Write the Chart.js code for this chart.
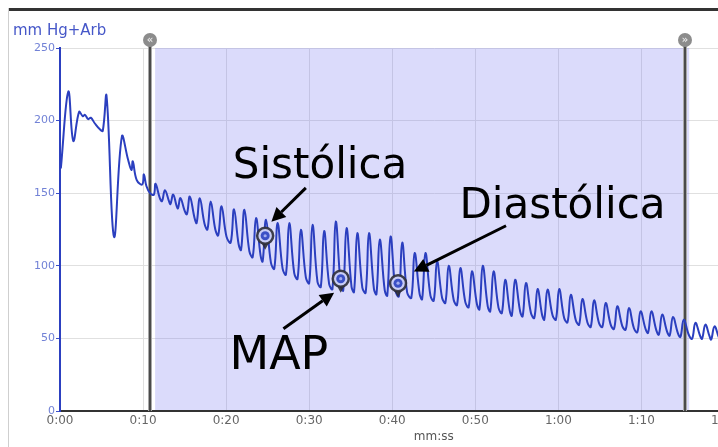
<!DOCTYPE html>
<html>
<head>
<meta charset="utf-8">
<script src="https://cdn.jsdelivr.net/npm/chart.js@4.4.0/dist/chart.umd.min.js"></script>
<style>
  html, body { margin: 0; padding: 0; background: #fff; overflow: hidden; }
  #wrap { position: relative; width: 718px; height: 447px; overflow: hidden; }
  #frameTop { position: absolute; left: 8px; top: 8px; right: 0; border-top: 3px solid #333; }
  #frameLeft { position: absolute; left: 8px; top: 8px; bottom: 0; border-left: 1px solid #cfcfcf; }
  canvas { position: absolute; left: 0; top: 0; }
</style>
</head>
<body>
<div id="wrap">
  <div id="frameTop"></div>
  <div id="frameLeft"></div>
  <canvas id="bpChart" width="824" height="447"></canvas>
</div>
<script>
// pressure trace (time in s, value in mm Hg)
// each beat after 0:11 = peak, end of fall, foot before next upstroke
const timeSec = [
  0.1, 1.0, 1.6, 2.3, 2.75, 3.0, 3.4, 3.7, 4.2, 4.8, 5.15, 5.6, 6.5, 7.45,
  8.2, 8.6, 8.76, 9.24, 9.9, 10.1, 10.4, 10.85, 11.3,
  11.5, 12.0, 12.28, 12.63, 13.15, 13.3, 13.63, 14.05, 14.2, 14.5, 15.0, 15.28,
  15.63, 16.2, 16.45, 16.83, 17.4, 17.75, 18.14, 18.7, 19.05, 19.45, 20.05, 20.55,
  20.95, 21.5, 21.8, 22.2, 22.8, 23.2, 23.6, 24.15, 24.4, 24.8, 25.4, 25.8,
  26.2, 26.8, 27.2, 27.6, 28.2, 28.6, 29.0, 29.6, 30.0, 30.4, 31.0, 31.4,
  31.8, 32.4, 32.8, 33.2, 33.8, 34.1, 34.5, 35.1, 35.4, 35.8, 36.4, 36.8,
  37.2, 37.8, 38.1, 38.5, 39.1, 39.4, 39.8, 40.4, 40.8, 41.2, 41.8, 42.3,
  42.7, 43.3, 43.6, 44.0, 44.6, 45.0, 45.4, 46.0, 46.4, 46.8, 47.4, 47.8,
  48.2, 48.8, 49.2, 49.6, 50.2, 50.5, 50.9, 51.5, 51.8, 52.2, 52.8, 53.2,
  53.6, 54.15, 54.4, 54.8, 55.4, 55.7, 56.1, 56.7, 57.1, 57.5, 58.05, 58.3,
  58.7, 59.3, 59.7, 60.1, 60.7, 61.1, 61.5, 62.1, 62.5, 62.9, 63.5, 63.9,
  64.3, 64.9, 65.3, 65.7, 66.3, 66.7, 67.1, 67.7, 68.1, 68.5, 69.1, 69.5,
  69.9, 70.5, 70.8, 71.2, 71.8, 72.1, 72.5, 73.1, 73.4, 73.8, 74.4, 74.7,
  75.1, 75.7, 76.1, 76.5, 77.05, 77.3, 77.7, 78.2, 78.4, 78.8, 79.3, 79.5
];
const pressure = [
  167, 220, 186, 206, 203, 204, 201, 202, 198, 194, 193, 217, 120, 189,
  173, 166, 172, 159, 156, 163, 155, 150, 149,
  156.5, 147, 144.5, 152, 144, 142.5, 149, 141, 139.5, 146.6, 138, 135.5,
  147.7, 133, 129.5, 146.6, 129, 125, 144.3, 125, 121, 141, 120, 116,
  139, 115, 111, 138.6, 110, 106, 133, 107, 103, 131.7, 102, 98,
  129.4, 98, 94, 129.4, 95, 91, 124.8, 92, 88, 128.3, 89, 85.5,
  124, 87.5, 84, 130.5, 86.5, 83, 126, 85.5, 82, 122.5, 85, 81.5,
  122.5, 84, 80.5, 118, 83, 79.5, 120.2, 82.5, 79, 116, 81.5, 78,
  108.8, 80.5, 77, 108.8, 79.5, 76, 103, 78, 74.5, 100, 76.5, 73,
  98.5, 75, 71.5, 96.2, 73.5, 70, 100, 72, 68.6, 96.2, 71, 67.5,
  90.4, 69, 65.7, 90.4, 68.5, 65.2, 88.2, 67.5, 64.1, 84, 66, 62.9,
  83.6, 66, 62.9, 84, 64, 61.1, 80.1, 62.5, 59.5, 77.1, 61, 57.9,
  76.2, 60.5, 57.9, 74.4, 59.5, 56.5, 72.1, 58.5, 56, 71, 57, 54.2,
  68.6, 56.5, 53.8, 68.6, 55.5, 52.6, 66.4, 54.5, 51.9, 64.8, 53.5, 51,
  62.9, 52.5, 49.7, 60.7, 52, 49.7, 59.5, 51.5, 49.2, 58.3, 51, 48.8
];

// detected points (pin markers)
const markerNames = ['Sistólica', 'MAP', 'Diastólica'];
const markerTimes = [24.7, 33.8, 40.7];
const markerValues = [120.7, 91.1, 88];

// selection sliders
const sliderStart = 10.85;
const sliderEnd = 75.3;
const shadeStart = 11.45;
const shadeEnd = 75.75;

const xTicks = [0, 10, 20, 30, 40, 50, 60, 70, 80, 90];
const yTicks = [0, 50, 100, 150, 200, 250];

// call-out labels and arrows, in data units
const callouts = [
  { text: 'Sistólica', size: 42, at: [20.8, 160.6], from: [29.6, 153.7], to: [25.45, 130.3] },
  { text: 'MAP', size: 46, at: [20.4, 28.8], from: [26.9, 56.7], to: [33.0, 81.5] },
  { text: 'Diastólica', size: 42, at: [48.1, 133], from: [53.7, 127.6], to: [42.6, 96] }
];

const fmtTime = v => Math.floor(v / 60) + ':' + String(v % 60).padStart(2, '0');

function arrow(ctx, x0, y0, x1, y1) {
  const ang = Math.atan2(y1 - y0, x1 - x0);
  const len = 14, half = 7;
  const bx = x1 - len * Math.cos(ang), by = y1 - len * Math.sin(ang);
  ctx.strokeStyle = '#000';
  ctx.lineWidth = 3;
  ctx.beginPath();
  ctx.moveTo(x0, y0);
  ctx.lineTo(bx, by);
  ctx.stroke();
  ctx.fillStyle = '#000';
  ctx.beginPath();
  ctx.moveTo(x1, y1);
  ctx.lineTo(bx + half * Math.sin(ang), by - half * Math.cos(ang));
  ctx.lineTo(bx - half * Math.sin(ang), by + half * Math.cos(ang));
  ctx.closePath();
  ctx.fill();
}

function pin(ctx, cx, cy) {
  ctx.fillStyle = 'rgba(45,45,55,0.9)';
  ctx.beginPath();
  ctx.moveTo(cx - 5, cy + 5);
  ctx.lineTo(cx + 5, cy + 5);
  ctx.lineTo(cx, cy + 14);
  ctx.closePath();
  ctx.fill();
  ctx.beginPath();
  ctx.arc(cx, cy, 8, 0, Math.PI * 2);
  ctx.fillStyle = '#c9cdf6';
  ctx.fill();
  ctx.lineWidth = 2.5;
  ctx.strokeStyle = 'rgba(45,45,55,0.9)';
  ctx.stroke();
  ctx.beginPath();
  ctx.arc(cx, cy, 4.5, 0, Math.PI * 2);
  ctx.fillStyle = '#3b50c6';
  ctx.fill();
  ctx.beginPath();
  ctx.arc(cx, cy, 1.6, 0, Math.PI * 2);
  ctx.fillStyle = '#a3adf0';
  ctx.fill();
}

const overlayPlugin = {
  id: 'overlay',
  beforeDatasetsDraw(chart) {
    const { ctx, chartArea: a, scales: { x } } = chart;
    ctx.save();
    const x0 = x.getPixelForValue(shadeStart);
    const x1 = x.getPixelForValue(shadeEnd);
    ctx.fillStyle = 'rgba(110,110,240,0.25)';
    ctx.fillRect(x0, a.top, x1 - x0, a.bottom - a.top - 1);
    [sliderStart, sliderEnd].forEach(t => {
      const px = Math.round(x.getPixelForValue(t));
      ctx.strokeStyle = '#a8a8a8';
      ctx.lineWidth = 4;
      ctx.beginPath();
      ctx.moveTo(px, a.top - 8);
      ctx.lineTo(px, a.bottom);
      ctx.stroke();
      ctx.strokeStyle = '#4a4a4a';
      ctx.lineWidth = 2;
      ctx.beginPath();
      ctx.moveTo(px, a.top - 8);
      ctx.lineTo(px, a.bottom);
      ctx.stroke();
    });
    ctx.restore();
  },
  afterDatasetsDraw(chart) {
    const { ctx, chartArea: a, scales: { x, y } } = chart;
    ctx.save();
    // slider handles
    [[sliderStart, '«'], [sliderEnd, '»']].forEach(([t, g]) => {
      const px = Math.round(x.getPixelForValue(t));
      ctx.beginPath();
      ctx.arc(px, a.top - 8, 7, 0, Math.PI * 2);
      ctx.fillStyle = '#8c8c8c';
      ctx.fill();
      ctx.fillStyle = '#e6e6e6';
      ctx.font = 'bold 10px "DejaVu Sans"';
      ctx.textAlign = 'center';
      ctx.textBaseline = 'middle';
      ctx.fillText(g, px, a.top - 8);
    });
    // markers
    markerTimes.forEach((t, i) => {
      pin(ctx, x.getPixelForValue(t), y.getPixelForValue(markerValues[i]));
    });
    // arrows + labels
    callouts.forEach(c => {
      arrow(ctx,
        x.getPixelForValue(c.from[0]), y.getPixelForValue(c.from[1]),
        x.getPixelForValue(c.to[0]), y.getPixelForValue(c.to[1]));
      ctx.fillStyle = '#000';
      ctx.font = c.size + 'px "DejaVu Sans"';
      ctx.textAlign = 'left';
      ctx.textBaseline = 'alphabetic';
      ctx.fillText(c.text, x.getPixelForValue(c.at[0]), y.getPixelForValue(c.at[1]));
    });
    // unit label of y axis
    ctx.fillStyle = '#4657c8';
    ctx.font = '15px "DejaVu Sans"';
    ctx.textAlign = 'left';
    ctx.textBaseline = 'alphabetic';
    ctx.fillText('mm Hg+Arb', 13, 35);
    ctx.restore();
  }
};

new Chart(document.getElementById('bpChart'), {
  type: 'line',
  data: {
    datasets: [{
      label: 'mm Hg+Arb',
      data: timeSec.map((t, i) => ({ x: t, y: pressure[i] })),
      borderColor: '#2b3fbf',
      borderWidth: 2,
      pointRadius: 0,
      tension: 0.4,
      fill: false
    }]
  },
  options: {
    responsive: false,
    animation: false,
    events: [],
    layout: { padding: { top: 48, right: 12, bottom: 0, left: 0 } },
    plugins: { legend: { display: false }, tooltip: { enabled: false } },
    scales: {
      x: {
        type: 'linear',
        min: 0,
        max: 90,
        afterBuildTicks: s => { s.ticks = xTicks.map(v => ({ value: v })); },
        afterFit: s => { s.height = 36; },
        ticks: {
          callback: v => fmtTime(v),
          color: '#666',
          font: { family: 'DejaVu Sans', size: 12 },
          padding: 3,
          maxRotation: 0,
          autoSkip: false
        },
        grid: { color: '#e0e0e0', drawTicks: false },
        border: { color: '#333', width: 2 },
        title: {
          display: true,
          text: 'mm:ss',
          color: '#555',
          font: { family: 'DejaVu Sans', size: 12 },
          padding: { top: 0, bottom: 3 }
        }
      },
      y: {
        min: 0,
        max: 250,
        afterBuildTicks: s => { s.ticks = yTicks.map(v => ({ value: v })); },
        afterFit: s => { s.width = 60; },
        ticks: {
          color: '#7282d6',
          font: { family: 'DejaVu Sans', size: 11 },
          padding: 1
        },
        grid: { color: '#e0e0e0', tickColor: '#3a4fc8', tickLength: 4 },
        border: { color: '#2c40c0', width: 2 }
      }
    }
  },
  plugins: [overlayPlugin]
});
</script>
</body>
</html>
